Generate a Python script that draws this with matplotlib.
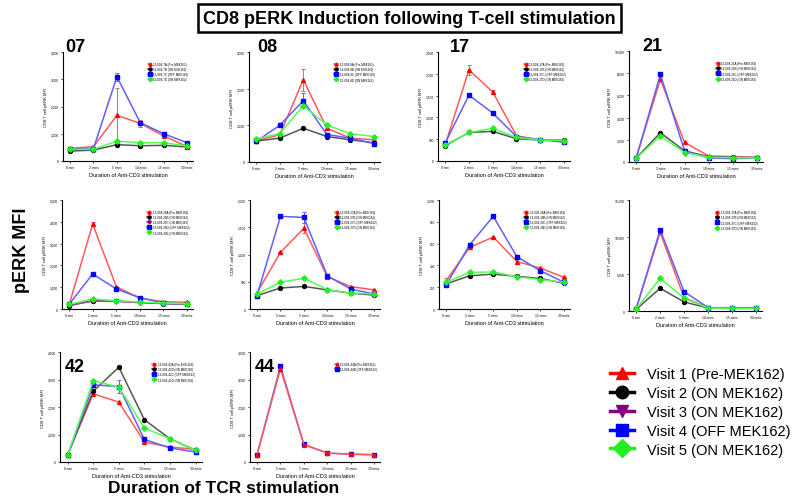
import matplotlib
matplotlib.use("Agg")
import matplotlib.pyplot as plt
import numpy as np
from matplotlib.lines import Line2D
from matplotlib.ticker import FuncFormatter, MultipleLocator

plt.rcParams["font.family"] = ["Liberation Sans", "DejaVu Sans"]

TIMES = ["0 min", "2 mins", "5 mins", "10 mins", "15 mins", "30 mins"]
VISITS = ["Visit 1 (Pre-MEK162)", "Visit 2 (ON MEK162)", "Visit 3 (ON MEK162)",
          "Visit 4 (OFF MEK162)", "Visit 5 (ON MEK162)"]

# patient panels: visit index of each series, sample labels, MFI values, error bars
P07_VISITS = [0, 1, 3, 4]
P07_LABELS = ["13-004-7A (Pre-MEK162)", "13-004-7B (ON MEK162)",
              "13-004-7C (OFF MEK162)", "13-004-7D (ON MEK162)"]
P07_MFI = [[465, 525, 1675, 1380, 920, 525],
           [365, 400, 600, 560, 575, 515],
           [450, 450, 3095, 1405, 1000, 670],
           [430, 430, 730, 670, 670, 550]]
P07_ERR = [[0, 0, 1000, 130, 40, 0], [0, 0, 0, 0, 0, 0],
           [0, 0, 150, 0, 0, 0], [0, 0, 0, 0, 0, 0]]

P08_VISITS = [0, 1, 3, 4]
P08_LABELS = ["13-004-8A (Pre-MEK162)", "13-004-8B (ON MEK162)",
              "13-004-8C (OFF MEK162)", "13-004-8D (ON MEK162)"]
P08_MFI = [[585, 740, 2240, 920, 650, 605],
           [570, 650, 920, 695, 605, 525],
           [560, 1000, 1670, 750, 650, 500],
           [630, 770, 1535, 1010, 770, 695]]
P08_ERR = [[0, 0, 300, 0, 0, 0], [0, 0, 0, 0, 0, 0],
           [0, 0, 200, 0, 0, 0], [0, 0, 0, 0, 0, 0]]

P17_VISITS = [0, 1, 3, 4]
P17_LABELS = ["13-004-17A (Pre-MEK162)", "13-004-17B (ON MEK162)",
              "13-004-17C (OFF MEK162)", "13-004-17D (ON MEK162)"]
P17_MFI = [[365, 2090, 1585, 580, 480, 460],
           [350, 655, 680, 510, 480, 480],
           [410, 1510, 1100, 560, 490, 430],
           [365, 655, 750, 540, 480, 470]]
P17_ERR = [[0, 120, 40, 0, 0, 0], [0, 0, 0, 0, 0, 0],
           [0, 0, 0, 0, 0, 0], [0, 0, 0, 0, 0, 0]]

P21_VISITS = [0, 1, 3, 4]
P21_LABELS = ["13-004-21A (Pre-MEK162)", "13-004-21B (ON MEK162)",
              "13-004-21C (OFF MEK162)", "13-004-21D (ON MEK162)"]
P21_MFI = [[390, 7450, 1760, 545, 485, 425],
           [360, 2640, 1000, 485, 425, 390],
           [360, 7900, 1000, 360, 300, 360],
           [330, 2360, 850, 425, 390, 360]]
P21_ERR = [[0] * 6, [0] * 6, [0] * 6, [0] * 6]

P26_VISITS = [0, 1, 2, 3, 4]
P26_LABELS = ["13-004-26A (Pre-MEK162)", "13-004-26B (ON MEK162)",
              "13-004-26C (ON MEK162)", "13-004-26D (OFF MEK162)",
              "13-004-26E (ON MEK162)"]
P26_MFI = [[185, 3900, 1025, 490, 335, 305],
           [155, 380, 365, 305, 245, 215],
           [170, 365, 350, 290, 260, 230],
           [215, 1605, 920, 520, 275, 230],
           [215, 460, 380, 320, 275, 245]]
P26_ERR = [[0, 80, 0, 0, 0, 0], [0] * 6, [0] * 6, [0] * 6, [0] * 6]

P27_VISITS = [0, 1, 3, 4]
P27_LABELS = ["13-004-27A (Pre-MEK162)", "13-004-27B (ON MEK162)",
              "13-004-27C (OFF MEK162)", "13-004-27D (ON MEK162)"]
P27_MFI = [[295, 1040, 1480, 595, 410, 350],
           [245, 385, 415, 350, 290, 255],
           [245, 1700, 1680, 610, 365, 275],
           [275, 490, 565, 355, 295, 275]]
P27_ERR = [[0, 0, 90, 0, 0, 0], [0] * 6,
           [0, 0, 100, 0, 0, 0], [0] * 6]

P28_VISITS = [0, 1, 3, 4]
P28_LABELS = ["13-004-28A (Pre-MEK162)", "13-004-28B (ON MEK162)",
              "13-004-28C (OFF MEK162)", "13-004-28D (ON MEK162)"]
P28_MFI = [[260, 565, 660, 435, 375, 290],
           [230, 305, 320, 300, 280, 235],
           [220, 590, 850, 480, 350, 245],
           [245, 335, 340, 295, 270, 245]]
P28_ERR = [[20, 0, 0, 20, 0, 0], [0] * 6, [0] * 6, [0] * 6]

P37_VISITS = [0, 1, 3, 4]
P37_LABELS = ["13-004-37A (Pre-MEK162)", "13-004-37B (ON MEK162)",
              "13-004-37C (OFF MEK162)", "13-004-37D (ON MEK162)"]
P37_MFI = [[320, 10620, 1810, 450, 400, 400],
           [225, 3070, 1220, 400, 360, 360],
           [320, 10980, 2620, 450, 450, 450],
           [270, 4430, 1720, 400, 360, 360]]
P37_ERR = [[0] * 6, [0] * 6, [0] * 6, [0] * 6]

P42_VISITS = [0, 1, 3, 4]
P42_LABELS = ["13-004-42A (Pre-MEK162)", "13-004-42B (ON MEK162)",
              "13-004-42C (OFF MEK162)", "13-004-42D (ON MEK162)"]
P42_MFI = [[265, 2480, 2175, 725, 545, 460],
           [265, 2575, 3445, 1535, 845, 425],
           [240, 2805, 2745, 820, 510, 365],
           [265, 2960, 2720, 1235, 845, 425]]
P42_ERR = [[0] * 6, [0, 0, 60, 0, 0, 0],
           [0, 0, 220, 0, 0, 0], [0] * 6]

P44_VISITS = [3, 0]
P44_LABELS = ["13-004-44B (OFF MEK162)", "13-004-44A (Pre-MEK162)"]
P44_MFI = [[265, 3480, 640, 325, 285, 265],
           [265, 3385, 630, 325, 280, 265]]
P44_ERR = [[0] * 6, [0] * 6]

PANELS = [
    ("07", P07_VISITS, P07_LABELS, P07_MFI, P07_ERR, 4000, 1000),
    ("08", P08_VISITS, P08_LABELS, P08_MFI, P08_ERR, 3000, 1000),
    ("17", P17_VISITS, P17_LABELS, P17_MFI, P17_ERR, 2500, 500),
    ("21", P21_VISITS, P21_LABELS, P21_MFI, P21_ERR, 10000, 2000),
    ("", P26_VISITS, P26_LABELS, P26_MFI, P26_ERR, 5000, 1000),
    ("", P27_VISITS, P27_LABELS, P27_MFI, P27_ERR, 2000, 500),
    ("", P28_VISITS, P28_LABELS, P28_MFI, P28_ERR, 1000, 200),
    ("", P37_VISITS, P37_LABELS, P37_MFI, P37_ERR, 15000, 5000),
    ("42", P42_VISITS, P42_LABELS, P42_MFI, P42_ERR, 4000, 1000),
    ("44", P44_VISITS, P44_LABELS, P44_MFI, P44_ERR, 4000, 1000),
]

# per visit: marker colour, line colour, marker
STYLE = [("#ff0000", "#ff5a5a", "^"),
         ("#000000", "#555555", "o"),
         ("#800080", "#a040a0", "v"),
         ("#0000ff", "#6060ff", "s"),
         ("#22ee22", "#55ff55", "D")]

# axes boxes in pixels: left, top, right, bottom
BOXES = [(63, 53, 193, 162), (249, 53, 380, 163), (438, 53, 570, 162), (629, 52, 763, 163),
         (62, 201, 193, 310), (250, 201, 380, 310), (439, 201, 570, 310), (629, 201, 762, 312),
         (60, 353, 202, 463), (250, 353, 380, 463)]
LABEL_X = [0.02, 0.06, 0.09, 0.1, 0, 0, 0, 0, 0.03, 0.04]
W, H = 800, 502

fig = plt.figure(figsize=(8, 5.02), dpi=100)
comma = FuncFormatter(lambda v, p: f"{int(v):,}")
x = np.arange(len(TIMES))

for i, (name, visits, labels, mfi, err, ymax, ystep) in enumerate(PANELS):
    l, t, r, b = BOXES[i]
    ax = fig.add_axes([l / W, 1 - b / H, (r - l) / W, (b - t) / H])
    for vi, vals, e, lab in zip(visits, mfi, err, labels):
        mc, lc, mk = STYLE[vi]
        if any(e):
            ax.errorbar(x, vals, yerr=e, fmt="none", ecolor=lc, elinewidth=0.7,
                        capsize=1.3, capthick=0.7, zorder=2)
        ax.plot(x, vals, color=lc, lw=1.1, marker=mk, ms=2.8, mfc=mc, mec=mc,
                label=lab, zorder=3)
    ax.set_xlim(-0.3, 5.25)
    ax.set_ylim(0, ymax)
    ax.yaxis.set_major_locator(MultipleLocator(ystep))
    ax.yaxis.set_major_formatter(comma)
    ax.set_xticks(x)
    ax.set_xticklabels(TIMES)
    ax.tick_params(labelsize=2.3, length=1.5, width=0.5, pad=1.5)
    for s in ("top", "right"):
        ax.spines[s].set_visible(False)
    for s in ("left", "bottom"):
        ax.spines[s].set_linewidth(0.8)
    ax.set_ylabel("CD8 T cell pERK MFI", fontsize=3, labelpad=2)
    ax.set_xlabel("Duration of Anti-CD3 stimulation", fontsize=4, labelpad=2)
    handles, labs = ax.get_legend_handles_labels()
    order = np.argsort(labs)
    ax.legend([handles[k] for k in order], [labs[k] for k in order],
              loc="upper left", bbox_to_anchor=(0.64, 0.92), fontsize=2.2,
              frameon=False, handlelength=1.2, markerscale=0.8,
              labelspacing=0.35, borderpad=0, handletextpad=0.5)
    if name:
        ypos = 1.05 if i < 4 else 0.87
        ax.text(LABEL_X[i], ypos, name, transform=ax.transAxes, fontsize=13,
                fontweight="bold", va="center", ha="left")

fig.text(0.512, 1 - 19 / H, "CD8 pERK Induction following T-cell stimulation",
         ha="center", va="center", fontsize=13, fontweight="bold",
         bbox=dict(boxstyle="square,pad=0.3", fc="white", ec="black", lw=1.8))
fig.text(22 / W, 1 - 250 / H, "pERK MFI", rotation=90, ha="center",
         va="center", fontsize=13, fontweight="bold")
fig.text(224 / W, 1 - 489 / H, "Duration of TCR stimulation", ha="center",
         va="center", fontsize=12.5, fontweight="bold")

handles = [Line2D([], [], color=STYLE[k][0], marker=STYLE[k][2], ms=9, lw=2.5)
           for k in range(5)]
fig.legend(handles, VISITS, loc="upper left", bbox_to_anchor=(603 / W, 1 - 361 / H),
           fontsize=10.5, frameon=False, handlelength=1.6, labelspacing=0.33,
           handletextpad=0.9, borderpad=0)

fig.savefig("out.png", dpi=100)
